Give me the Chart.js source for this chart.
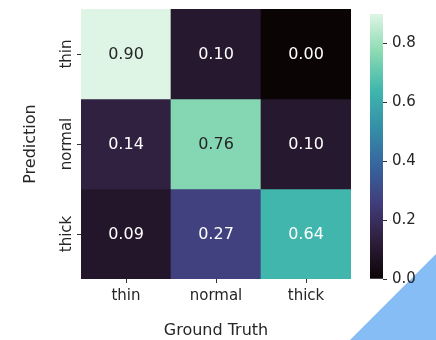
<!DOCTYPE html>
<html>
<head>
<meta charset="utf-8">
<script src="https://cdn.jsdelivr.net/npm/chart.js@4.4.1/dist/chart.umd.min.js"></script>
<style>
  html, body { margin: 0; padding: 0; background: #ffffff; }
  #wrap { position: relative; width: 436px; height: 340px; overflow: hidden; }
  #corner {
    position: absolute; left: 0; top: 0; width: 436px; height: 340px;
    background: #86bdf5;
    clip-path: polygon(350px 340px, 436px 254px, 436px 340px);
  }
  #heat { position: absolute; left: 0; top: 0; }
  #cbar { position: absolute; left: 370px; top: 0; }
</style>
</head>
<body>
<div id="wrap">
  <div id="corner"></div>
  <canvas id="heat" width="436" height="340"></canvas>
  <canvas id="cbar" width="66" height="340"></canvas>
</div>
<script>
// Confusion matrix: columns = ground truth class, rows = predicted class
const truthLabels = ['thin', 'normal', 'thick'];
const predLabels = ['thin', 'normal', 'thick'];
const rowThin = [0.90, 0.10, 0.00];
const rowNormal = [0.14, 0.76, 0.10];
const rowThick = [0.09, 0.27, 0.64];
const colorbarTicks = [0.0, 0.2, 0.4, 0.6, 0.8];

const matrix = [rowThin, rowNormal, rowThick];
const vmin = 0;
const vmax = Math.max(...matrix.flat());

// "mako" style colormap stops
const makoStops = [
  [0.000, [11, 4, 5]],
  [0.143, [46, 30, 59]],
  [0.286, [65, 61, 123]],
  [0.429, [55, 101, 158]],
  [0.571, [52, 143, 167]],
  [0.714, [64, 183, 173]],
  [0.857, [139, 218, 178]],
  [1.000, [222, 245, 229]]
];

function makoRGB(t) {
  t = Math.min(1, Math.max(0, t));
  for (let i = 1; i < makoStops.length; i++) {
    const [t1, c1] = makoStops[i];
    const [t0, c0] = makoStops[i - 1];
    if (t <= t1) {
      const f = (t - t0) / (t1 - t0);
      return c0.map((v, k) => Math.round(v + f * (c1[k] - v)));
    }
  }
  return makoStops[makoStops.length - 1][1];
}
const rgbStr = c => `rgb(${c[0]},${c[1]},${c[2]})`;
const norm = v => (v - vmin) / (vmax - vmin);

function luminance(c) {
  const lin = c.map(v => {
    v /= 255;
    return v <= 0.03928 ? v / 12.92 : Math.pow((v + 0.055) / 1.055, 2.4);
  });
  return 0.2126 * lin[0] + 0.7152 * lin[1] + 0.0722 * lin[2];
}

const FONT = "'DejaVu Sans', sans-serif";
const TEXT = '#262626';
const TICK = '#333333';
Chart.defaults.font.family = FONT;
Chart.defaults.color = TEXT;

// one floating-bar dataset per predicted row, one bar per ground-truth column
const datasets = matrix.map((row, r) => ({
  label: predLabels[r],
  data: row.map(() => [r, r + 1]),
  values: row,
  backgroundColor: row.map(v => rgbStr(makoRGB(norm(v)))),
  borderWidth: 0,
  barPercentage: 1,
  categoryPercentage: 1,
  grouped: false
}));

const cellText = {
  id: 'cellText',
  afterDatasetsDraw(chart) {
    const { ctx, scales: { x, y } } = chart;
    ctx.save();
    ctx.font = `16px ${FONT}`;
    ctx.textAlign = 'center';
    ctx.textBaseline = 'middle';
    matrix.forEach((row, r) => {
      row.forEach((v, c) => {
        const col = makoRGB(norm(v));
        ctx.fillStyle = luminance(col) > 0.408 ? TEXT : '#ffffff';
        ctx.fillText(v.toFixed(2), x.getPixelForValue(c), y.getPixelForValue(r + 0.5) + 1);
      });
    });
    ctx.restore();
  }
};

// row labels on the left axis, written vertically
const rowLabels = {
  id: 'rowLabels',
  afterDraw(chart) {
    const { ctx, scales: { y } } = chart;
    ctx.save();
    ctx.font = `15px ${FONT}`;
    ctx.fillStyle = TEXT;
    ctx.textAlign = 'center';
    ctx.textBaseline = 'alphabetic';
    predLabels.forEach((lab, r) => {
      ctx.save();
      ctx.translate(y.right - 10.3, y.getPixelForValue(r + 0.5));
      ctx.rotate(-Math.PI / 2);
      ctx.fillText(lab, 0, 0);
      ctx.restore();
    });
    ctx.restore();
  }
};

new Chart(document.getElementById('heat'), {
  type: 'bar',
  data: { labels: truthLabels, datasets },
  options: {
    responsive: false,
    animation: false,
    events: [],
    layout: { padding: { top: 9, right: 85, left: 0, bottom: 0 } },
    plugins: { legend: { display: false }, tooltip: { enabled: false } },
    scales: {
      x: {
        type: 'category',
        offset: true,
        border: { display: false },
        grid: { offset: false, drawOnChartArea: false, drawTicks: true, tickLength: 4, color: TICK },
        ticks: { font: { size: 15 }, color: TEXT, padding: 4, maxRotation: 0 },
        title: { display: true, text: 'Ground Truth', font: { size: 16 }, color: TEXT, padding: { top: 0, bottom: 0 } },
        afterFit(s) { s.height = 61; }
      },
      y: {
        type: 'linear',
        min: 0,
        max: predLabels.length,
        reverse: true,
        border: { display: false },
        grid: { drawOnChartArea: false, drawTicks: true, tickLength: 4, color: TICK },
        ticks: { display: false },
        afterBuildTicks(s) { s.ticks = predLabels.map((_, i) => ({ value: i + 0.5 })); },
        title: { display: true, text: 'Prediction', font: { size: 16 }, color: TEXT, padding: { top: 21.6, bottom: 0 } },
        afterFit(s) { s.width = 81; }
      }
    }
  },
  plugins: [cellText, rowLabels]
});

// colour bar
function barGradient(context) {
  const { chart } = context;
  const area = chart.chartArea;
  if (!area) return null;
  const g = chart.ctx.createLinearGradient(0, area.bottom, 0, area.top);
  makoStops.forEach(([t, c]) => g.addColorStop(t, rgbStr(c)));
  return g;
}

new Chart(document.getElementById('cbar'), {
  type: 'bar',
  data: {
    labels: [''],
    datasets: [{
      data: [[vmin, vmax]],
      backgroundColor: barGradient,
      borderWidth: 0,
      barPercentage: 1,
      categoryPercentage: 1
    }]
  },
  options: {
    responsive: false,
    animation: false,
    events: [],
    layout: { padding: { top: 9, bottom: 61, left: 0, right: 0 } },
    plugins: { legend: { display: false }, tooltip: { enabled: false } },
    scales: {
      x: { display: false },
      y: {
        position: 'right',
        min: vmin,
        max: vmax,
        border: { display: false },
        grid: { drawOnChartArea: false, drawTicks: true, tickLength: 4, color: TICK },
        afterBuildTicks(s) { s.ticks = colorbarTicks.map(v => ({ value: v })); },
        ticks: { font: { size: 15 }, color: TEXT, padding: 5, callback: v => Number(v).toFixed(1) },
        afterFit(s) { s.width = 53; }
      }
    }
  }
});
</script>
</body>
</html>
